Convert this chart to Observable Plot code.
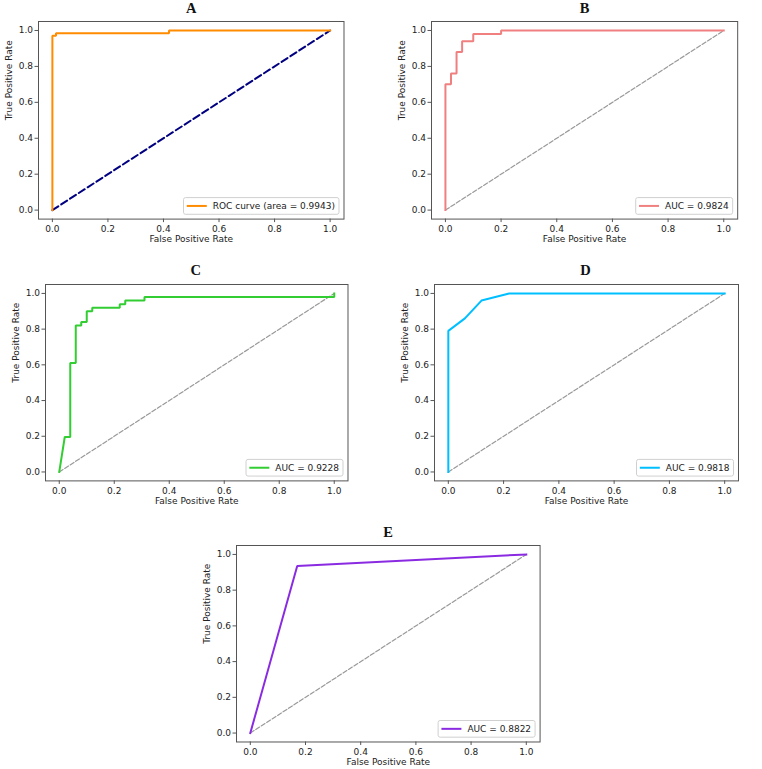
<!DOCTYPE html>
<html>
<head>
<meta charset="utf-8">
<script src="https://cdn.jsdelivr.net/npm/d3@7"></script>
<script src="https://cdn.jsdelivr.net/npm/@observablehq/plot@0.6"></script>
<style>
  html, body { margin: 0; padding: 0; background: #fff; }
  #page { position: relative; width: 762px; height: 769px; overflow: hidden; background: #fff; }
  .panel-title { position: absolute; font-family: "Liberation Serif", "Times New Roman", serif; font-weight: bold; font-size: 14.5px; line-height: 14px; text-align: center; color: #111; }
  .panel-svg { position: absolute; }
</style>
</head>
<body>
<div id="page"></div>
<script>
// ---- Data ----
const panelNames = ["A", "B", "C", "D", "E"];
const tickValues = [0, 0.2, 0.4, 0.6, 0.8, 1.0];
const xLabel = "False Positive Rate";
const yLabel = "True Positive Rate";
const diagFpr = [0, 1];
const diagTpr = [0, 1];

const fprA = [0, 0, 0.013, 0.013, 0.42, 0.42, 1];
const tprA = [0, 0.97, 0.97, 0.985, 0.985, 1, 1];
const legendA = "ROC curve (area = 0.9943)";

const fprB = [0, 0, 0.02, 0.02, 0.04, 0.04, 0.06, 0.06, 0.10, 0.10, 0.20, 0.20, 1];
const tprB = [0, 0.70, 0.70, 0.76, 0.76, 0.88, 0.88, 0.94, 0.94, 0.98, 0.98, 1, 1];
const legendB = "AUC = 0.9824";

const fprC = [0, 0.02, 0.04, 0.04, 0.06, 0.06, 0.08, 0.08, 0.10, 0.10, 0.12, 0.12, 0.22, 0.22, 0.24, 0.24, 0.31, 0.31, 1, 1];
const tprC = [0, 0.196, 0.196, 0.61, 0.61, 0.82, 0.82, 0.84, 0.84, 0.90, 0.90, 0.92, 0.92, 0.94, 0.94, 0.96, 0.96, 0.98, 0.98, 1];
const legendC = "AUC = 0.9228";

const fprD = [0, 0, 0.06, 0.12, 0.22, 1];
const tprD = [0, 0.79, 0.86, 0.96, 1, 1];
const legendD = "AUC = 0.9818";

const fprE = [0, 0.17, 1];
const tprE = [0, 0.935, 1];
const legendE = "AUC = 0.8822";

// ---- Build ----
const zip = (xs, ys) => xs.map((x, i) => ({x, y: ys[i]}));

const panels = [
  {name: panelNames[0], fpr: fprA, tpr: tprA, legend: legendA, color: "#ff8c00",
   diagColor: "#000080", diagWidth: 2, diagDash: "7,3.5",
   fl: 38.4, ft: 20.7, fw: 305.5, fh: 197.6, titleTop: 1},
  {name: panelNames[1], fpr: fprB, tpr: tprB, legend: legendB, color: "#f08080",
   diagColor: "#999", diagWidth: 1.2, diagDash: "4.5,2",
   fl: 431.4, ft: 20.7, fw: 306.2, fh: 197.6, titleTop: 1},
  {name: panelNames[2], fpr: fprC, tpr: tprC, legend: legendC, color: "#32cd32",
   diagColor: "#999", diagWidth: 1.2, diagDash: "4.5,2",
   fl: 44.5, ft: 283.8, fw: 302.5, fh: 196.4, titleTop: 262.6},
  {name: panelNames[3], fpr: fprD, tpr: tprD, legend: legendD, color: "#00bfff",
   diagColor: "#999", diagWidth: 1.2, diagDash: "4.5,2",
   fl: 433.5, ft: 283.8, fw: 304, fh: 196.4, titleTop: 262.6},
  {name: panelNames[4], fpr: fprE, tpr: tprE, legend: legendE, color: "#8a2be2",
   diagColor: "#999", diagWidth: 1.2, diagDash: "4.5,2",
   fl: 236.2, ft: 545.4, fw: 303.6, fh: 196.5, titleTop: 525}
];

const page = document.getElementById("page");
const ML = 42, MT = 5, MR = 10, MB = 32;
const axisColor = "#555";

for (const p of panels) {
  const title = document.createElement("div");
  title.className = "panel-title";
  title.textContent = p.name;
  title.style.left = (p.fl) + "px";
  title.style.width = p.fw + "px";
  title.style.top = p.titleTop + "px";
  page.appendChild(title);

  const plot = Plot.plot({
    width: p.fw + ML + MR,
    height: p.fh + MT + MB,
    marginLeft: ML, marginTop: MT, marginRight: MR, marginBottom: MB,
    style: {fontFamily: "DejaVu Sans, sans-serif", fontSize: "9px", color: "#222", background: "transparent", overflow: "visible"},
    x: {domain: [-0.05, 1.05], ticks: tickValues, tickFormat: d3.format(".1f"), tickSize: 3.5, tickPadding: 3, label: null},
    y: {domain: [-0.05, 1.05], ticks: tickValues, tickFormat: d3.format(".1f"), tickSize: 3.5, tickPadding: 2, label: null},
    marks: [
      Plot.line(zip(diagFpr, diagTpr), {x: "x", y: "y", stroke: p.diagColor, strokeWidth: p.diagWidth, strokeDasharray: p.diagDash}),
      Plot.line(zip(p.fpr, p.tpr), {x: "x", y: "y", stroke: p.color, strokeWidth: 2, strokeLinejoin: "miter", strokeLinecap: "square"}),
      Plot.frame({stroke: axisColor, strokeWidth: 1}),
      Plot.text([xLabel], {frameAnchor: "bottom", dy: 23, text: d => d, fill: "#222"}),
      Plot.text([yLabel], {frameAnchor: "left", dx: -29, rotate: -90, text: d => d, fill: "#222"})
    ]
  });
  plot.classList.add("panel-svg");
  plot.style.left = (p.fl - ML) + "px";
  plot.style.top = (p.ft - MT) + "px";
  page.appendChild(plot);

  d3.select(plot).selectAll("[aria-label^='x-axis'] path, [aria-label^='y-axis'] path, [aria-label^='x-axis'] line, [aria-label^='y-axis'] line").attr("stroke", axisColor);

  // legend box (lower right)
  const svg = d3.select(plot);
  const g = svg.append("g").attr("class", "legend")
    .attr("font-family", "DejaVu Sans, sans-serif").attr("font-size", 9).attr("text-anchor", "start");
  const boxH = 16.7;
  const frameRight = ML + p.fw, frameBottom = MT + p.fh;
  const rect = g.append("rect");
  const line = g.append("line");
  const txt = g.append("text").text(p.legend).attr("fill", "#222").attr("text-anchor", "start");
  const tw = txt.node().getComputedTextLength();
  const boxW = 29.3 + tw + 4;
  const bx = frameRight - 4.5 - boxW;
  const by = frameBottom - 4.3 - boxH;
  rect.attr("x", bx).attr("y", by).attr("width", boxW).attr("height", boxH)
      .attr("rx", 2).attr("fill", "#fff").attr("fill-opacity", 0.85).attr("stroke", "#d0d0d0").attr("stroke-width", 1);
  line.attr("x1", bx + 3.3).attr("x2", bx + 23.3).attr("y1", by + boxH / 2).attr("y2", by + boxH / 2)
      .attr("stroke", p.color).attr("stroke-width", 2);
  txt.attr("x", bx + 29.3).attr("y", by + boxH / 2).attr("dy", "0.35em");
}
</script>
</body>
</html>
